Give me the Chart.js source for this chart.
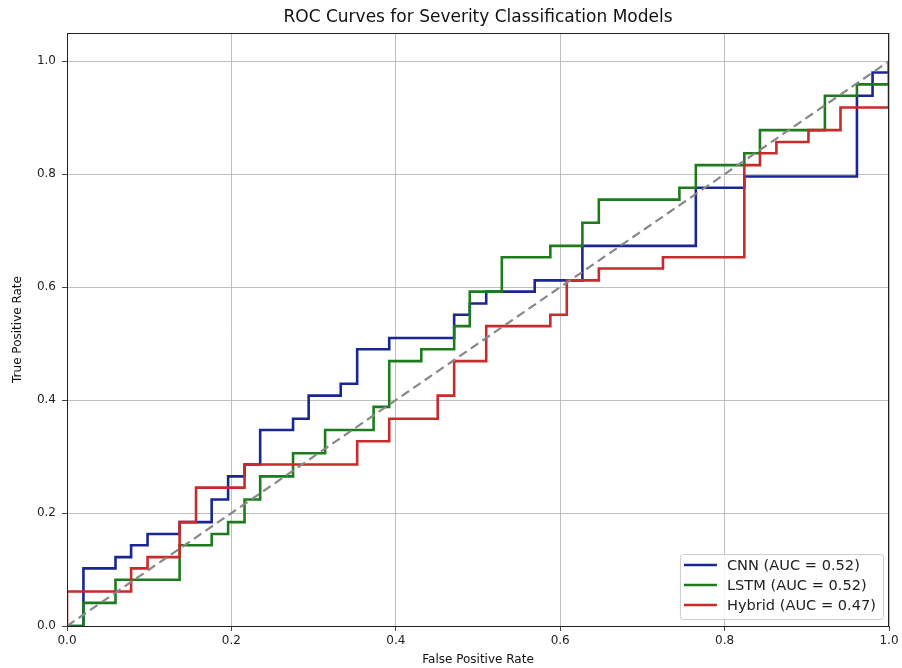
<!DOCTYPE html>
<html><head><meta charset="utf-8">
<script src="https://cdn.jsdelivr.net/npm/chart.js@4.4.1/dist/chart.umd.min.js"></script>
<style>html,body{margin:0;padding:0;background:#fff;}canvas{display:block;}</style>
</head><body>
<canvas id="c" width="902" height="668"></canvas>
<script>
// ---- data ----
const modelNames = ['CNN', 'LSTM', 'Hybrid'];
const aucValues = [0.52, 0.52, 0.47];

const cnnFpr = [0, 0.020, 0.020, 0.059, 0.059, 0.078, 0.078, 0.098, 0.098, 0.137, 0.137, 0.176, 0.176, 0.196, 0.196, 0.216, 0.216, 0.235, 0.235, 0.275, 0.275, 0.294, 0.294, 0.333, 0.333, 0.353, 0.353, 0.392, 0.392, 0.471, 0.471, 0.490, 0.490, 0.510, 0.510, 0.569, 0.569, 0.627, 0.627, 0.765, 0.765, 0.824, 0.824, 0.961, 0.961, 0.980, 0.980, 1.000, 1.000];
const cnnTpr = [0, 0, 0.102, 0.102, 0.122, 0.122, 0.143, 0.143, 0.163, 0.163, 0.184, 0.184, 0.224, 0.224, 0.265, 0.265, 0.286, 0.286, 0.347, 0.347, 0.367, 0.367, 0.408, 0.408, 0.429, 0.429, 0.490, 0.490, 0.510, 0.510, 0.551, 0.551, 0.571, 0.571, 0.592, 0.592, 0.612, 0.612, 0.673, 0.673, 0.776, 0.776, 0.796, 0.796, 0.939, 0.939, 0.980, 0.980, 1.000];

const lstmFpr = [0, 0.020, 0.020, 0.059, 0.059, 0.137, 0.137, 0.176, 0.176, 0.196, 0.196, 0.216, 0.216, 0.235, 0.235, 0.275, 0.275, 0.314, 0.314, 0.373, 0.373, 0.392, 0.392, 0.431, 0.431, 0.471, 0.471, 0.490, 0.490, 0.529, 0.529, 0.588, 0.588, 0.627, 0.627, 0.647, 0.647, 0.745, 0.745, 0.765, 0.765, 0.824, 0.824, 0.843, 0.843, 0.922, 0.922, 0.961, 0.961, 1.000, 1.000];
const lstmTpr = [0, 0, 0.041, 0.041, 0.082, 0.082, 0.143, 0.143, 0.163, 0.163, 0.184, 0.184, 0.224, 0.224, 0.265, 0.265, 0.306, 0.306, 0.347, 0.347, 0.388, 0.388, 0.469, 0.469, 0.490, 0.490, 0.531, 0.531, 0.592, 0.592, 0.653, 0.653, 0.673, 0.673, 0.714, 0.714, 0.755, 0.755, 0.776, 0.776, 0.816, 0.816, 0.837, 0.837, 0.878, 0.878, 0.939, 0.939, 0.959, 0.959, 1.000];

const hybridFpr = [0, 0, 0.078, 0.078, 0.098, 0.098, 0.137, 0.137, 0.157, 0.157, 0.216, 0.216, 0.353, 0.353, 0.392, 0.392, 0.451, 0.451, 0.471, 0.471, 0.510, 0.510, 0.588, 0.588, 0.608, 0.608, 0.647, 0.647, 0.725, 0.725, 0.824, 0.824, 0.843, 0.843, 0.863, 0.863, 0.902, 0.902, 0.941, 0.941, 1.000, 1.000];
const hybridTpr = [0, 0.061, 0.061, 0.102, 0.102, 0.122, 0.122, 0.184, 0.184, 0.245, 0.245, 0.286, 0.286, 0.327, 0.327, 0.367, 0.367, 0.408, 0.408, 0.469, 0.469, 0.531, 0.531, 0.551, 0.551, 0.612, 0.612, 0.633, 0.633, 0.653, 0.653, 0.816, 0.816, 0.837, 0.837, 0.857, 0.857, 0.878, 0.878, 0.918, 0.918, 1.000];

const chanceFpr = [0, 1];
const chanceTpr = [0, 1];

const xTicks = [0, 0.2, 0.4, 0.6, 0.8, 1.0];
const yTicks = [0, 0.2, 0.4, 0.6, 0.8, 1.0];

const titleText = 'ROC Curves for Severity Classification Models';
const xLabel = 'False Positive Rate';
const yLabel = 'True Positive Rate';

// ---- styling ----
const FONT = "'DejaVu Sans', sans-serif";
const colors = ['#1a2692', '#1d7b1d', '#c82b2b'];
const pts = (xs, ys) => xs.map((x, i) => ({ x: x, y: ys[i] }));

const series = [pts(cnnFpr, cnnTpr), pts(lstmFpr, lstmTpr), pts(hybridFpr, hybridTpr)];
const datasets = series.map((d, i) => ({
  label: modelNames[i] + ' (AUC = ' + aucValues[i].toFixed(2) + ')',
  data: d,
  showLine: true,
  borderColor: colors[i],
  backgroundColor: colors[i],
  borderWidth: 2.6,
  pointRadius: 0,
  pointHoverRadius: 0,
  tension: 0,
  fill: false,
  order: 3 - i
}));
datasets.push({
  label: 'chance',
  data: pts(chanceFpr, chanceTpr),
  showLine: true,
  borderColor: '#888888',
  borderWidth: 2.2,
  borderDash: [9, 5],
  pointRadius: 0,
  fill: false,
  order: 0,
  isChance: true
});

const decorPlugin = {
  id: 'decor',
  afterDatasetsDraw(chart) {
    const { ctx, chartArea: a } = chart;
    ctx.save();
    ctx.strokeStyle = '#222';
    ctx.lineWidth = 1;
    ctx.strokeRect(Math.round(a.left) + 0.5, Math.round(a.top) + 0.5, Math.round(a.right - a.left) - 1, Math.round(a.bottom - a.top));
    ctx.restore();
  },
  afterDraw(chart) {
    const { ctx, chartArea: a } = chart;
    ctx.save();
    // title
    ctx.fillStyle = '#111';
    ctx.textAlign = 'center';
    ctx.textBaseline = 'middle';
    ctx.font = '17px ' + FONT;
    ctx.fillText(titleText, (a.left + a.right) / 2, 18);
    // axis labels
    ctx.font = '12px ' + FONT;
    ctx.fillText(xLabel, (a.left + a.right) / 2, 660);
    ctx.translate(18, (a.top + a.bottom) / 2);
    ctx.rotate(-Math.PI / 2);
    ctx.fillText(yLabel, 0, 0);
    ctx.restore();

    // legend (lower right, inside the axes)
    const ds = chart.data.datasets.filter(d => !d.isChance);
    ctx.save();
    ctx.font = '14.6px ' + FONT;
    const maxW = Math.max(...ds.map(d => ctx.measureText(d.label).width));
    const lineLen = 33, pad = 4, gap = 10, rowH = 20;
    const w = pad + lineLen + gap + maxW + 7;
    const h = rowH * ds.length + 5;
    const right = a.right - 6, bottom = a.bottom - 7;
    const left = right - w, top = bottom - h;
    ctx.beginPath();
    if (ctx.roundRect) ctx.roundRect(left + 0.5, top + 0.5, w, h, 3); else ctx.rect(left + 0.5, top + 0.5, w, h);
    ctx.fillStyle = 'rgba(255,255,255,0.85)';
    ctx.fill();
    ctx.strokeStyle = '#cccccc';
    ctx.lineWidth = 1;
    ctx.stroke();
    ds.forEach((d, i) => {
      const y = top + 11 + i * rowH;
      ctx.beginPath();
      ctx.strokeStyle = d.borderColor;
      ctx.lineWidth = 2.6;
      ctx.moveTo(left + pad, y);
      ctx.lineTo(left + pad + lineLen, y);
      ctx.stroke();
      ctx.fillStyle = '#222';
      ctx.textAlign = 'left';
      ctx.textBaseline = 'middle';
      ctx.fillText(d.label, left + pad + lineLen + gap, y + 1);
    });
    ctx.restore();
  }
};

function axisOpts(ticksArr, isX) {
  return {
    type: 'linear',
    position: isX ? 'bottom' : 'left',
    min: 0,
    max: isX ? 1 : 1.05,
    afterBuildTicks: s => { s.ticks = ticksArr.map(v => ({ value: v })); },
    afterFit: s => { if (isX) s.height = 42; else s.width = 67; },
    border: { display: false },
    grid: { color: '#b8b8b8', lineWidth: 0.9, tickLength: 5, tickColor: '#333', drawTicks: true },
    ticks: {
      font: { family: FONT, size: 12 },
      color: '#222',
      padding: isX ? 3 : 6,
      maxRotation: 0,
      autoSkip: false,
      callback: v => Number(v).toFixed(1)
    }
  };
}

new Chart(document.getElementById('c'), {
  type: 'scatter',
  data: { datasets: datasets },
  options: {
    responsive: false,
    animation: false,
    devicePixelRatio: 1,
    layout: { padding: { top: 33, right: 13, bottom: 0, left: 0 } },
    plugins: { legend: { display: false }, title: { display: false }, tooltip: { enabled: false } },
    scales: { x: axisOpts(xTicks, true), y: axisOpts(yTicks, false) }
  },
  plugins: [decorPlugin]
});
</script>
</body></html>
